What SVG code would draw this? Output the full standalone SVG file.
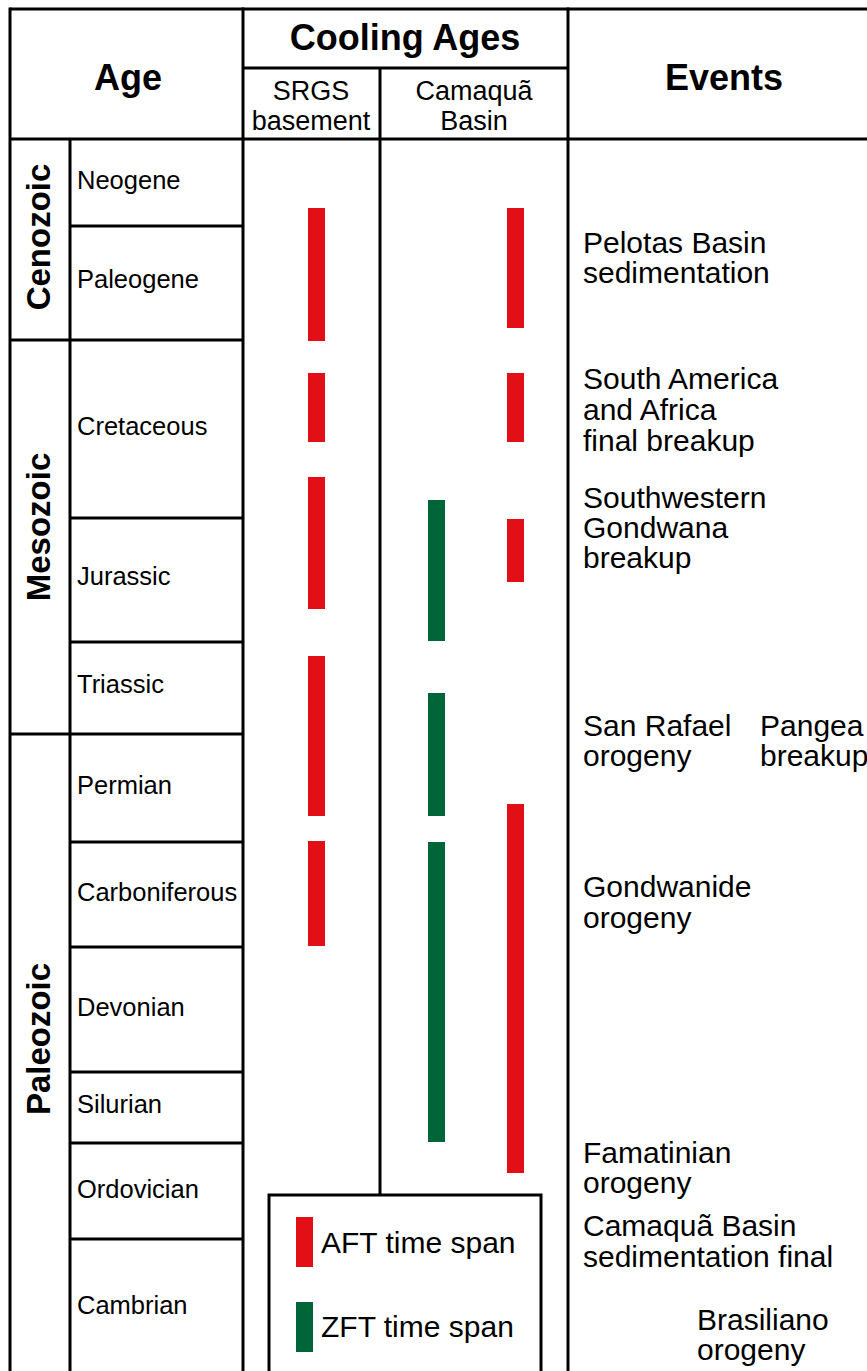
<svg xmlns="http://www.w3.org/2000/svg" width="867" height="1371" viewBox="0 0 867 1371">
<style>
.ln{stroke:#000;stroke-width:3;fill:none}
.hd{font-family:"Liberation Sans",Arial,sans-serif;font-weight:bold;font-size:36px;fill:#000}
.sh{font-family:"Liberation Sans",Arial,sans-serif;font-size:27px;fill:#000}
.era{font-family:"Liberation Sans",Arial,sans-serif;font-weight:bold;font-size:33px;fill:#000}
.per{font-family:"Liberation Sans",Arial,sans-serif;font-size:25.5px;fill:#000}
.ev{font-family:"Liberation Sans",Arial,sans-serif;font-size:30px;fill:#000}
.red{fill:#e30f16}
.grn{fill:#00663a}
</style>
<rect width="867" height="1371" fill="#fff"/>
<g id="grid">
<line class="ln" x1="10" y1="9" x2="867" y2="9"/>
<line class="ln" x1="10" y1="139" x2="867" y2="139"/>
<line class="ln" x1="243" y1="68" x2="568" y2="68"/>
<line class="ln" x1="10" y1="7.5" x2="10" y2="1371"/>
<line class="ln" x1="243" y1="7.5" x2="243" y2="1371"/>
<line class="ln" x1="568" y1="7.5" x2="568" y2="1371"/>
<line class="ln" x1="380" y1="68" x2="380" y2="1195"/>
<line class="ln" x1="70" y1="139" x2="70" y2="1371"/>
<line class="ln" x1="10" y1="340" x2="243" y2="340"/>
<line class="ln" x1="10" y1="734" x2="243" y2="734"/>
<line class="ln" x1="70" y1="226" x2="243" y2="226"/>
<line class="ln" x1="70" y1="518" x2="243" y2="518"/>
<line class="ln" x1="70" y1="642" x2="243" y2="642"/>
<line class="ln" x1="70" y1="842" x2="243" y2="842"/>
<line class="ln" x1="70" y1="947" x2="243" y2="947"/>
<line class="ln" x1="70" y1="1072" x2="243" y2="1072"/>
<line class="ln" x1="70" y1="1143" x2="243" y2="1143"/>
<line class="ln" x1="70" y1="1239" x2="243" y2="1239"/>
</g>
<g id="headers">
<text class="hd" x="128" y="90" text-anchor="middle">Age</text>
<text class="hd" x="405" y="50" text-anchor="middle">Cooling Ages</text>
<text class="hd" x="724" y="90" text-anchor="middle">Events</text>
<text class="sh" x="311" y="100" text-anchor="middle">SRGS</text>
<text class="sh" x="311" y="130" text-anchor="middle">basement</text>
<text class="sh" x="474" y="100" text-anchor="middle">Camaquã</text>
<text class="sh" x="474" y="130" text-anchor="middle">Basin</text>
</g>
<g id="eras">
<text class="era" transform="translate(50,237) rotate(-90)" text-anchor="middle">Cenozoic</text>
<text class="era" transform="translate(50,527) rotate(-90)" text-anchor="middle">Mesozoic</text>
<text class="era" transform="translate(50,1039) rotate(-90)" text-anchor="middle">Paleozoic</text>
</g>
<g id="periods">
<text class="per" x="77" y="189">Neogene</text>
<text class="per" x="77" y="288">Paleogene</text>
<text class="per" x="77" y="435">Cretaceous</text>
<text class="per" x="77" y="585">Jurassic</text>
<text class="per" x="77" y="693">Triassic</text>
<text class="per" x="77" y="794">Permian</text>
<text class="per" x="77" y="901">Carboniferous</text>
<text class="per" x="77" y="1016">Devonian</text>
<text class="per" x="77" y="1113">Silurian</text>
<text class="per" x="77" y="1198">Ordovician</text>
<text class="per" x="77" y="1314">Cambrian</text>
</g>
<g id="srgs-bars">
<rect class="red" x="308" y="208" width="17" height="133"/>
<rect class="red" x="308" y="373" width="17" height="69"/>
<rect class="red" x="308" y="477" width="17" height="132"/>
<rect class="red" x="308" y="656" width="17" height="160"/>
<rect class="red" x="308" y="841" width="17" height="105"/>
</g>
<g id="camaqua-bars">
<rect class="red" x="507" y="208" width="17" height="120"/>
<rect class="red" x="507" y="373" width="17" height="69"/>
<rect class="red" x="507" y="519" width="17" height="63"/>
<rect class="red" x="507" y="804" width="17" height="369"/>
<rect class="grn" x="428" y="500" width="17" height="141"/>
<rect class="grn" x="428" y="693" width="17" height="123"/>
<rect class="grn" x="428" y="842" width="17" height="300"/>
</g>
<g id="events">
<text class="ev" x="583" y="253">Pelotas Basin</text>
<text class="ev" x="583" y="283">sedimentation</text>
<text class="ev" x="583" y="389">South America</text>
<text class="ev" x="583" y="420">and Africa</text>
<text class="ev" x="583" y="451">final breakup</text>
<text class="ev" x="583" y="508">Southwestern</text>
<text class="ev" x="583" y="538">Gondwana</text>
<text class="ev" x="583" y="568">breakup</text>
<text class="ev" x="583" y="736">San Rafael</text>
<text class="ev" x="583" y="766">orogeny</text>
<text class="ev" x="760" y="736">Pangea</text>
<text class="ev" x="760" y="766">breakup</text>
<text class="ev" x="583" y="897">Gondwanide</text>
<text class="ev" x="583" y="928">orogeny</text>
<text class="ev" x="583" y="1163">Famatinian</text>
<text class="ev" x="583" y="1193">orogeny</text>
<text class="ev" x="583" y="1236">Camaquã Basin</text>
<text class="ev" x="583" y="1267">sedimentation final</text>
<text class="ev" x="697" y="1330">Brasiliano</text>
<text class="ev" x="697" y="1360">orogeny</text>
</g>
<g id="legend">
<polyline class="ln" points="269,1371 269,1195 541,1195 541,1371"/>
<rect class="red" x="296" y="1217" width="17" height="50"/>
<rect class="grn" x="296" y="1302" width="17" height="50"/>
<text class="ev" x="321" y="1253">AFT time span</text>
<text class="ev" x="321" y="1337">ZFT time span</text>
</g>
</svg>
